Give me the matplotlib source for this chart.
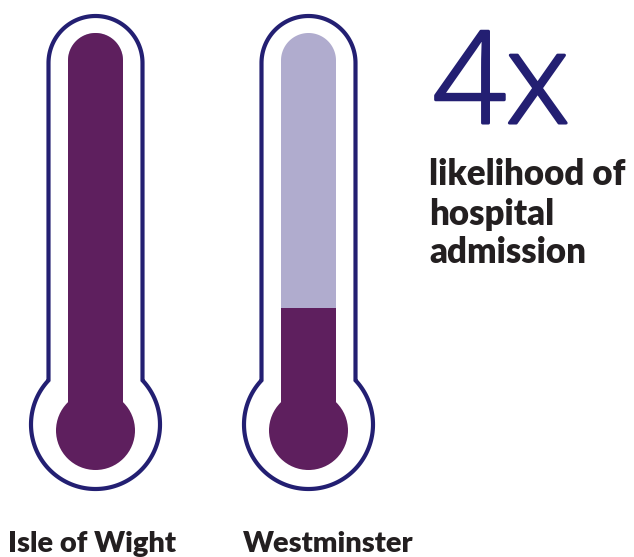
import numpy as np
import matplotlib
matplotlib.use("Agg")
import matplotlib.pyplot as plt
import matplotlib.patheffects as pe
from matplotlib.path import Path
from matplotlib.patches import PathPatch, Circle

# ---- data ----
regions = ["Isle of Wight", "Westminster"]
likelihood = [4, 1]            # relative likelihood of hospital admission
headline = "4x"
caption_lines = ["likelihood of", "hospital", "admission"]

# ---- style ----
PURPLE = "#5E1F5E"
LAVENDER = "#B0ACCE"
NAVY = "#231F72"
TEXT = "#231F20"

W, H = 634, 557
fig = plt.figure(figsize=(W / 100, H / 100), dpi=100)
ax = fig.add_axes([0, 0, 1, 1])
ax.set_xlim(0, W)
ax.set_ylim(0, H)
ax.axis("off")

centers = [95.5, 308.5]
bar_w = 55.0
r_in = bar_w / 2
y_junction = 157.0     # where the tube meets the bulb
y_top = 524.0          # top of the fill track
track_len = y_top - y_junction
bulb_c = 126.5
bulb_r = 39.5
vmax = max(likelihood)

# outline geometry
out_hw = 47.0
out_top_c = 494.0
out_bulb_c = 132.5
out_bulb_r = 64.5

for cx, val, name in zip(centers, likelihood, regions):
    # track clip path (capsule)
    cap_c = y_top - r_in
    th = np.linspace(0, np.pi, 60)
    xs = np.concatenate([[cx - r_in, cx - r_in], cx - r_in * np.cos(th), [cx + r_in, cx + r_in]])
    ys = np.concatenate([[bulb_c, cap_c], cap_c + r_in * np.sin(th), [cap_c, bulb_c]])
    track = PathPatch(Path(np.column_stack([xs, ys])), facecolor="none", edgecolor="none")
    ax.add_patch(track)

    # lavender track (full scale)
    bg = ax.bar([cx], [y_top - bulb_c], bottom=bulb_c, width=bar_w, color=LAVENDER, linewidth=0)
    for b in bg:
        b.set_clip_path(track)
    # purple fill scaled by value
    fill_h = (y_junction - bulb_c) + val / vmax * track_len
    fg = ax.bar([cx], [fill_h], bottom=bulb_c, width=bar_w, color=PURPLE, linewidth=0)
    for b in fg:
        b.set_clip_path(track)
    # bulb
    ax.add_patch(Circle((cx, bulb_c), bulb_r, color=PURPLE, linewidth=0))

    # outline (closed polygon)
    dy = np.sqrt(out_bulb_r ** 2 - out_hw ** 2)
    ang = np.degrees(np.arctan2(dy, out_hw))
    t_top = np.linspace(0, np.pi, 80)
    top_x = cx + out_hw * np.cos(t_top)
    top_y = out_top_c + out_hw * np.sin(t_top)
    t_b = np.radians(np.linspace(180 - ang, 360 + ang, 160))
    bx = cx + out_bulb_r * np.cos(t_b)
    by = out_bulb_c + out_bulb_r * np.sin(t_b)
    verts = np.column_stack([np.concatenate([top_x, bx, [top_x[0]]]),
                             np.concatenate([top_y, by, [top_y[0]]])])
    codes = [Path.MOVETO] + [Path.LINETO] * (len(verts) - 2) + [Path.CLOSEPOLY]
    ax.add_patch(PathPatch(Path(verts, codes), facecolor="none", edgecolor=NAVY,
                           linewidth=3.0, joinstyle="miter"))

# labels
label_x = [8, 243]
for lx, name in zip(label_x, regions):
    ax.text(lx, 5, name, fontsize=21, fontweight="heavy", color=TEXT,
            family=["Lato", "DejaVu Sans"], ha="left", va="baseline")

# headline
ax.text(433, 434, headline, fontsize=92, fontweight="light", color=NAVY,
        family=["Open Sans", "DejaVu Sans"], ha="left", va="baseline",
        path_effects=[pe.withStroke(linewidth=2.2, foreground=NAVY,
                                    capstyle="round", joinstyle="round")])

# caption
base_y = [372, 332, 294]
for by_, line in zip(base_y, caption_lines):
    ax.text(429, by_, line, fontsize=25, fontweight="heavy", color=TEXT,
            family=["Lato", "DejaVu Sans"], ha="left", va="baseline")

fig.savefig("out.png", dpi=100, facecolor="white")
